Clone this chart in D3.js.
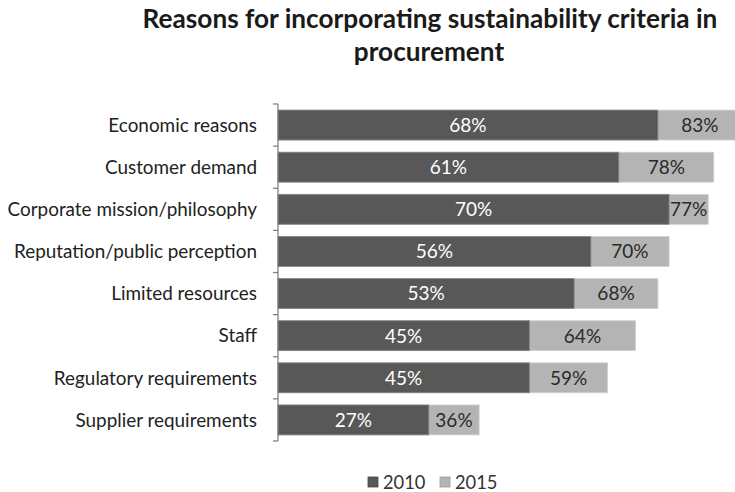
<!DOCTYPE html>
<html>
<head>
<meta charset="utf-8">
<script src="https://cdn.jsdelivr.net/npm/d3@7"></script>
<style>
  body { margin: 0; background: #fff; }
  svg { display: block; }
  text { font-family: Lato, "Noto Sans", sans-serif; }
</style>
</head>
<body>
<svg id="chart" width="735" height="492"></svg>
<script>
// Survey results: share of respondents citing each reason
const categories = [
  "Economic reasons",
  "Customer demand",
  "Corporate mission/philosophy",
  "Reputation/public perception",
  "Limited resources",
  "Staff",
  "Regulatory requirements",
  "Supplier requirements"
];
const values2010 = [68, 61, 70, 56, 53, 45, 45, 27];
const values2015 = [83, 78, 77, 70, 68, 64, 59, 36];
const seriesNames = ["2010", "2015"];
const seriesColors = ["#585858", "#b4b4b4"];

const svg = d3.select("#chart");
const W = 735, H = 492;
const x0 = 278;

const x = d3.scaleLinear().domain([0, 100]).range([x0, x0 + 558.7]);
const y = d3.scaleBand().domain(categories).range([104, 441])
  .paddingInner(0.29).paddingOuter(0.145);

// Title
const title = svg.append("text")
  .attr("x", 430).attr("y", 28)
  .attr("text-anchor", "middle")
  .attr("font-size", 26.2).attr("font-weight", "bold").attr("fill", "#1a1a1a");
title.append("tspan").attr("x", 430).attr("dy", 0).text("Reasons for incorporating sustainability criteria in");
title.append("tspan").attr("x", 429).attr("dy", 33).text("procurement");

const rows = categories.map((c, i) => ({ c, a: values2010[i], b: values2015[i] }));

// 2015 bars (behind)
svg.append("g").selectAll("rect").data(rows).join("rect")
  .attr("x", x(0)).attr("y", d => y(d.c))
  .attr("width", d => x(d.b) - x(0)).attr("height", y.bandwidth())
  .attr("fill", seriesColors[1]).attr("stroke", "#d0d0d0").attr("stroke-width", 0.8);

// 2010 bars (front)
svg.append("g").selectAll("rect").data(rows).join("rect")
  .attr("x", x(0)).attr("y", d => y(d.c))
  .attr("width", d => x(d.a) - x(0)).attr("height", y.bandwidth())
  .attr("fill", seriesColors[0]).attr("stroke", "#8a8a8a").attr("stroke-width", 0.8);

// Value labels
svg.append("g").selectAll("text").data(rows).join("text")
  .attr("x", d => (x(0) + x(d.a)) / 2)
  .attr("y", d => y(d.c) + y.bandwidth() / 2)
  .attr("dy", "0.36em").attr("text-anchor", "middle")
  .attr("font-size", 19).attr("fill", "#ffffff")
  .text(d => d.a + "%");

svg.append("g").selectAll("text").data(rows).join("text")
  .attr("x", d => (x(d.a) + Math.min(x(d.b), W + 7)) / 2)
  .attr("y", d => y(d.c) + y.bandwidth() / 2)
  .attr("dy", "0.36em").attr("text-anchor", "middle")
  .attr("font-size", 19).attr("fill", "#2a2a2a")
  .text(d => d.b + "%");

// Category axis: line plus ticks at band boundaries
const axisG = svg.append("g").attr("transform", `translate(${x0},0)`);
axisG.append("line")
  .attr("x1", 0).attr("x2", 0)
  .attr("y1", y.range()[0]).attr("y2", y.range()[1])
  .attr("stroke", "#7a7a7a").attr("stroke-width", 1.2);
const boundaries = categories.map(c => y(c) - y.step() * y.paddingInner() / 2)
  .concat([y.range()[1]]);
axisG.selectAll("line.tick").data(boundaries).join("line")
  .attr("class", "tick")
  .attr("x1", -5).attr("x2", 0)
  .attr("y1", d => d).attr("y2", d => d)
  .attr("stroke", "#7a7a7a").attr("stroke-width", 1.2);

axisG.selectAll("text").data(categories).join("text")
  .attr("x", -21)
  .attr("y", d => y(d) + y.bandwidth() / 2)
  .attr("dy", "0.36em").attr("text-anchor", "end")
  .attr("font-size", 18.9).attr("fill", "#222")
  .text(d => d);

// Legend
const legend = svg.append("g").attr("transform", "translate(0,482)");
const legendX = [368, 440];
seriesNames.forEach((n, i) => {
  legend.append("rect")
    .attr("x", legendX[i]).attr("y", -5).attr("width", 10).attr("height", 10)
    .attr("fill", seriesColors[i]).attr("stroke", i === 0 ? "#444" : "#999").attr("stroke-width", 0.8);
  legend.append("text")
    .attr("x", legendX[i] + 15).attr("y", 0).attr("dy", "0.36em")
    .attr("font-size", 18.3).attr("fill", "#333").text(n);
});
</script>
</body>
</html>
